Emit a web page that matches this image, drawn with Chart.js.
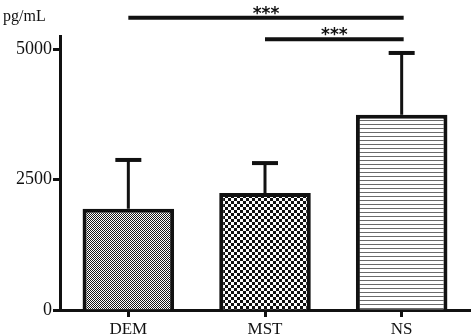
<!DOCTYPE html>
<html><head><meta charset="utf-8">
<script src="https://cdn.jsdelivr.net/npm/chart.js@4/dist/chart.umd.min.js"></script>
<style>html,body{margin:0;padding:0;background:#fff}#wrap{width:472px;height:334px;position:relative}</style>
</head><body><div id="wrap"><canvas id="c" width="472" height="334"></canvas></div>
<script>
const categories = ['DEM', 'MST', 'NS'];
const means = [1940, 2240, 3740];
const sdErrors = [935, 575, 1185];
const yTicks = [0, 2500, 5000];
const yMax = 5250;
const yUnit = 'pg/mL';
const sigFrom = ['DEM', 'MST'];
const sigTo = ['NS', 'NS'];
const sigLevel = [5600, 5190];
const sigText = ['***', '***'];

const canvas = document.getElementById('c');
const ctx = canvas.getContext('2d');
const INK = '#111';

function makePattern(kind) {
  const c = document.createElement('canvas');
  const x = c.getContext('2d');
  if (kind === 'fine') {
    c.width = 2; c.height = 2;
    x.fillStyle = '#fff'; x.fillRect(0, 0, 2, 2);
    x.fillStyle = '#1a1a1a'; x.fillRect(0, 0, 1, 1); x.fillRect(1, 1, 1, 1);
  } else if (kind === 'checker') {
    c.width = 6; c.height = 6;
    x.fillStyle = '#fff'; x.fillRect(0, 0, 6, 6);
    x.fillStyle = '#111'; x.fillRect(0, 0, 3, 3); x.fillRect(3, 3, 3, 3);
  } else {
    c.width = 4; c.height = 4;
    x.fillStyle = '#fff'; x.fillRect(0, 0, 4, 4);
    x.fillStyle = '#6a6a6a'; x.fillRect(0, 0, 4, 1);
  }
  return ctx.createPattern(c, 'repeat');
}
const fills = [makePattern('fine'), makePattern('checker'), makePattern('lines')];

const extras = {
  id: 'extras',
  afterDatasetsDraw(chart) {
    const c = chart.ctx;
    const ys = chart.scales.y;
    const meta = chart.getDatasetMeta(0);
    c.save();
    c.strokeStyle = INK;
    c.lineWidth = 3;
    c.lineCap = 'butt';
    meta.data.forEach((bar, i) => {
      const y0 = ys.getPixelForValue(means[i]);
      const y1 = ys.getPixelForValue(means[i] + sdErrors[i]);
      c.beginPath();
      c.moveTo(bar.x, y0); c.lineTo(bar.x, y1);
      c.stroke();
      c.lineWidth = 4;
      c.beginPath();
      c.moveTo(bar.x - 13, y1); c.lineTo(bar.x + 13, y1);
      c.stroke();
      c.lineWidth = 3;
    });
    c.restore();
  },
  afterDraw(chart) {
    const c = chart.ctx;
    const xs = chart.scales.x, ys = chart.scales.y;
    c.save();
    c.strokeStyle = INK;
    c.fillStyle = INK;
    c.lineWidth = 4;
    sigFrom.forEach((f, i) => {
      const xa = xs.getPixelForValue(categories.indexOf(f));
      const xb = xs.getPixelForValue(categories.indexOf(sigTo[i])) + 2;
      const y = ys.getPixelForValue(sigLevel[i]);
      c.beginPath(); c.moveTo(xa, y); c.lineTo(xb, y); c.stroke();
      c.font = 'bold 17px "DejaVu Sans"';
      c.textAlign = 'center';
      c.textBaseline = 'alphabetic';
      c.fillText(sigText[i], (xa + xb) / 2, y + 1);
    });
    c.font = '16px "Liberation Serif"';
    c.textAlign = 'left';
    c.textBaseline = 'alphabetic';
    c.fillText(yUnit, chart.chartArea.left - 57, chart.chartArea.top - 15);
    c.restore();
  }
};

new Chart(ctx, {
  type: 'bar',
  data: {
    labels: categories,
    datasets: [{
      data: means,
      backgroundColor: fills,
      borderColor: INK,
      borderWidth: 4,
      borderSkipped: 'start',
      barPercentage: 0.67,
      categoryPercentage: 1
    }]
  },
  options: {
    responsive: false,
    animation: false,
    devicePixelRatio: 1,
    layout: { padding: { top: 36, right: 2, left: 0, bottom: 0 } },
    plugins: { legend: { display: false }, tooltip: { enabled: false } },
    scales: {
      x: {
        type: 'category',
        offset: true,
        grid: { offset: false, drawOnChartArea: false, drawTicks: true, tickLength: 7, tickWidth: 3, tickColor: INK },
        border: { display: true, width: 3, color: INK },
        ticks: { font: { family: 'Liberation Serif', size: 17 }, color: INK, padding: 2 },
        afterFit(s) { s.height = 24; }
      },
      y: {
        min: 0,
        max: yMax,
        afterBuildTicks(s) { s.ticks = yTicks.map(v => ({ value: v })); },
        grid: { drawOnChartArea: false, drawTicks: true, tickLength: 7, tickWidth: 3, tickColor: INK },
        border: { display: true, width: 3, color: INK },
        ticks: { font: { family: 'Liberation Serif', size: 18 }, color: INK, padding: 1, callback: v => String(v) },
        afterFit(s) { s.width = 60; }
      }
    }
  },
  plugins: [extras]
});
</script>
</body></html>
